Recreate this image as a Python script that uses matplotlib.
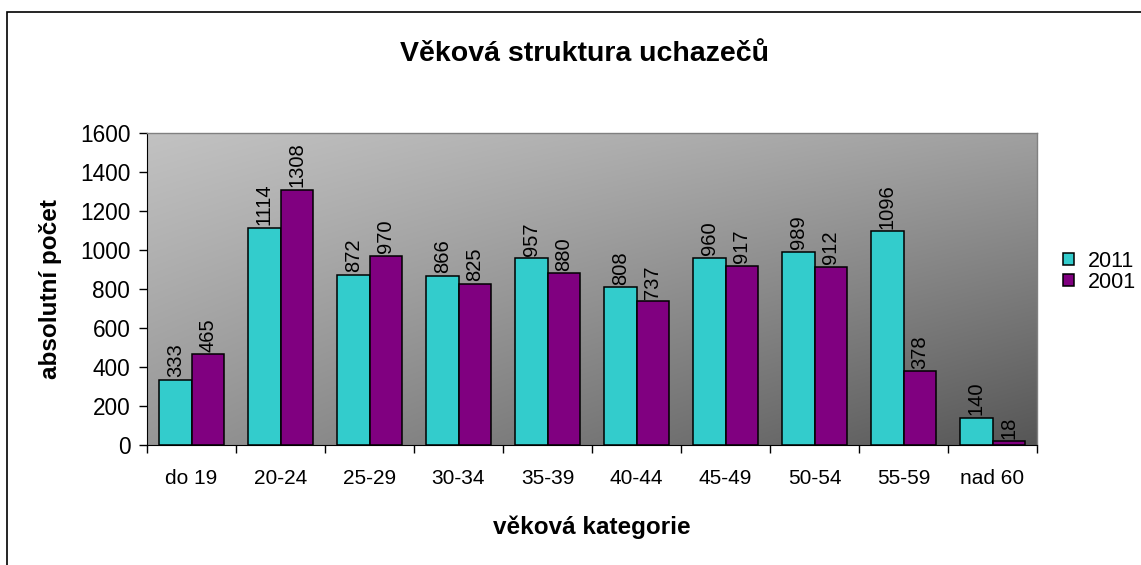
import numpy as np
import matplotlib
matplotlib.use("Agg")
import matplotlib.pyplot as plt
from matplotlib.patches import Rectangle

categories = ["do 19", "20-24", "25-29", "30-34", "35-39", "40-44", "45-49", "50-54", "55-59", "nad 60"]
values_2011 = [333, 1114, 872, 866, 957, 808, 960, 989, 1096, 140]
values_2001 = [465, 1308, 970, 825, 880, 737, 917, 912, 378, 18]
series_names = ["2011", "2001"]
yticks = [0, 200, 400, 600, 800, 1000, 1200, 1400, 1600]

plt.rcParams['font.family'] = ['Liberation Sans', 'DejaVu Sans']

W, H = 1141, 565
fig = plt.figure(figsize=(W / 100, H / 100), dpi=100)
fig.patch.set_facecolor("white")

# outer frame
fig.patches.append(Rectangle((7 / W, -0.05), 1.2, 1 - 12 / H + 0.05, transform=fig.transFigure,
                             fill=False, edgecolor="black", linewidth=1.2))

ax = fig.add_axes([147 / W, 1 - 445 / H, (1037 - 147) / W, (445 - 133) / H])

n = len(categories)
ax.set_xlim(0, n)
ax.set_ylim(0, 1600)

# gradient background (bilinear between corner greys)
gx, gy = np.meshgrid(np.linspace(0, 1, 300), np.linspace(0, 1, 300))  # gy=0 top
tl, tr, bl, br = 194, 160, 150, 86
g = (tl * (1 - gx) * (1 - gy) + tr * gx * (1 - gy) + bl * (1 - gx) * gy + br * gx * gy) / 255.0
img = np.dstack([g, g, g])
ax.imshow(img, extent=[0, n, 0, 1600], origin="upper", aspect="auto", zorder=0,
          interpolation="bilinear")

x = np.arange(n) + 0.5
bw = 0.36
b1 = ax.bar(x - bw / 2, values_2011, bw, color="#33CCCC", edgecolor="black", linewidth=1.1,
            label=series_names[0], zorder=2)
b2 = ax.bar(x + bw / 2, values_2001, bw, color="#800080", edgecolor="black", linewidth=1.1,
            label=series_names[1], zorder=2)

for bars, vals in ((b1, values_2011), (b2, values_2001)):
    for r, v in zip(bars, vals):
        ax.annotate(str(v), (r.get_x() + r.get_width() / 2, v), xytext=(0, 2),
                    textcoords="offset points", rotation=90, ha="center", va="bottom",
                    fontsize=14.5, color="black", zorder=3)

ax.set_yticks(yticks)
ax.set_yticklabels([str(v) for v in yticks], fontsize=16.3)
ax.set_xticks(np.arange(n + 1))
ax.set_xticklabels([])
ax.set_xticks(x, minor=True)
ax.set_xticklabels(categories, minor=True, fontsize=15)
ax.tick_params(axis="x", which="minor", length=0, pad=17)
ax.tick_params(axis="x", which="major", length=6, width=1, direction="out")
ax.tick_params(axis="y", length=6, width=1, direction="out", pad=6)

for s in ("top", "right"):
    ax.spines[s].set_color("#808080")
    ax.spines[s].set_linewidth(1)
ax.spines["left"].set_color("black")
ax.spines["bottom"].set_color("black")

ax.set_xlabel("věková kategorie", fontsize=17.5, fontweight="bold", labelpad=20)
ax.set_ylabel("absolutní počet", fontsize=17.5, fontweight="bold", labelpad=13)

fig.text(585 / W, 1 - 54 / H, "Věková struktura uchazečů",
         ha="center", va="center", fontsize=20.5, fontweight="bold")

leg = ax.legend(loc="center left", bbox_to_anchor=(1063 / W, 1 - 272 / H),
                bbox_transform=fig.transFigure, frameon=False, fontsize=15.5,
                handlelength=0.5, handleheight=0.5, handletextpad=0.65, labelspacing=0.0,
                borderaxespad=0, borderpad=0)

fig.savefig("out.png", dpi=100)
